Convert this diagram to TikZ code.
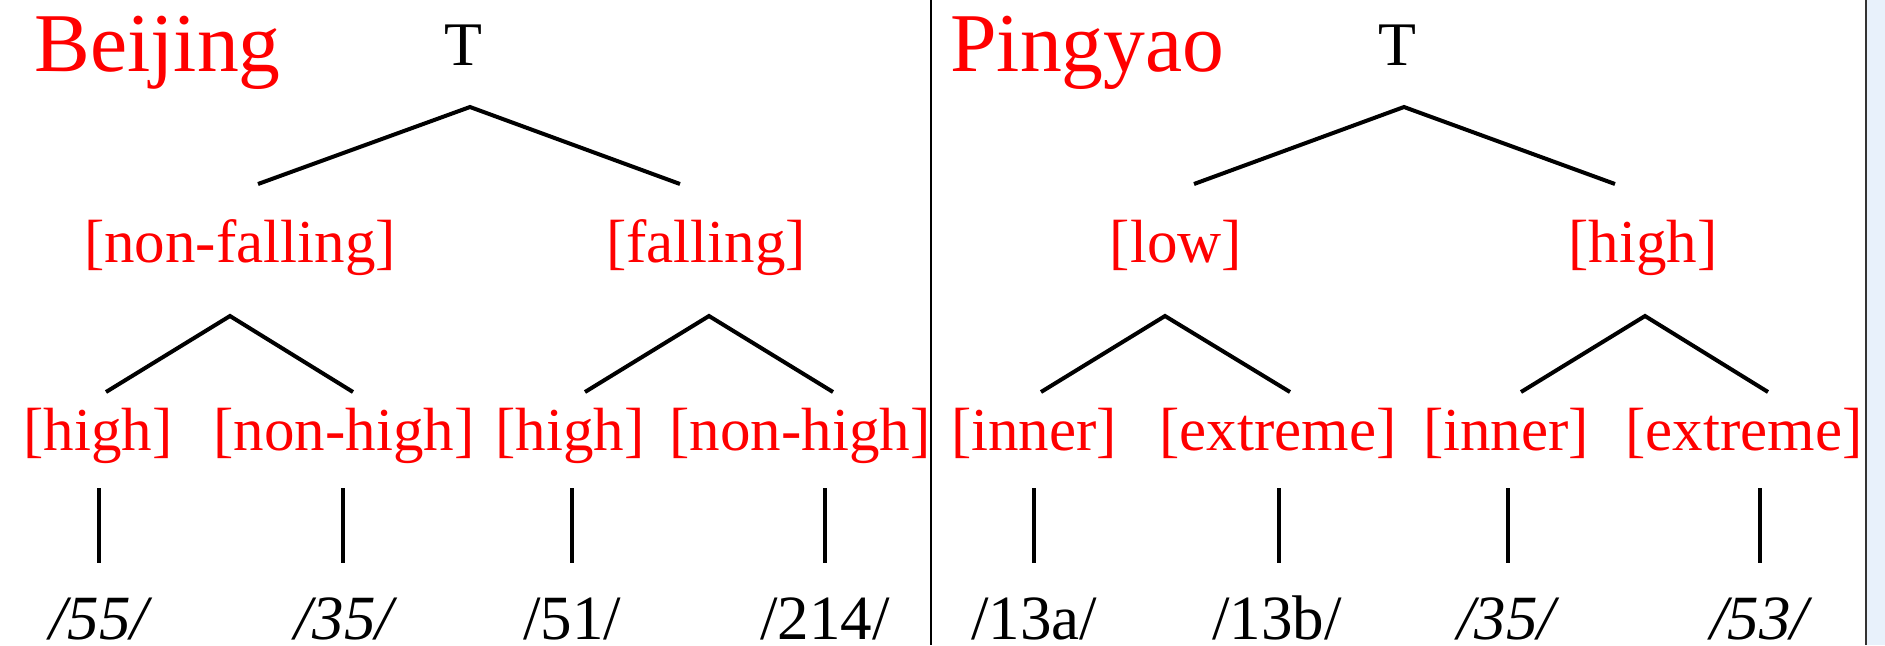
\documentclass[tikz,border=0pt]{standalone}
\usepackage{fontspec}
\setmainfont{Liberation Serif}
\usepackage{xcolor}
\usepackage{tikz}

\definecolor{paneblue}{RGB}{232,241,251}

\tikzset{
  title/.style={red, anchor=base west, inner sep=0pt, font=\fontsize{41.8}{48}\selectfont},
  root/.style={black, anchor=base, inner sep=0pt, font=\fontsize{31}{36}\selectfont},
  feat/.style={red, anchor=base, inner sep=0pt, font=\fontsize{30.5}{36}\selectfont},
  tone/.style={black, anchor=base, inner sep=0pt, font=\fontsize{31.5}{36}\selectfont},
  itone/.style={tone, font=\fontsize{31.5}{36}\selectfont\itshape},
  branch/.style={black, line width=2pt},
}

\begin{document}
\begin{tikzpicture}[x=0.5pt, y=-0.5pt]
    \useasboundingbox (0,0) rectangle (1885,645);

    % Window edge on the right
    \fill[paneblue] (1867,0) rectangle (1885,645);
    \draw[black!80, line width=1pt] (1866,0) -- (1866,645);

    % Divider between the two trees
    \draw[black, line width=1pt] (931,0) -- (931,645);

    % ---------------- Beijing ----------------
    \node[title] (bjName) at (34,71) {Beijing};
    \node[root]  (bjT)    at (463,65) {T};

    \node[feat] (bjNF) at (240,262) {[non-falling]};
    \node[feat] (bjF)  at (706,262) {[falling]};

    \node[feat] (bjNFh)  at (98,450)  {[high]};
    \node[feat] (bjNFnh) at (344,450) {[non-high]};
    \node[feat] (bjFh)   at (570,450) {[high]};
    \node[feat] (bjFnh)  at (800,450) {[non-high]};

    \node[itone] (bj55)  at (99,639)  {/55/};
    \node[itone] (bj35)  at (344,639) {/35/};
    \node[tone]  (bj51)  at (572,639) {/51/};
    \node[tone]  (bj214) at (825,639) {/214/};

    % branch points
    \coordinate (bjTop) at (470,107);
    \coordinate (bjTopL) at (258,184);
    \coordinate (bjTopR) at (680,184);
    \coordinate (bjNFtop) at (230,316);
    \coordinate (bjNFl) at (106,392);
    \coordinate (bjNFr) at (353,392);
    \coordinate (bjFtop) at (709,316);
    \coordinate (bjFl) at (585,392);
    \coordinate (bjFr) at (833,392);

    \draw[branch] (bjTopL) -- (bjTop) -- (bjTopR);
    \draw[branch] (bjNFl) -- (bjNFtop) -- (bjNFr);
    \draw[branch] (bjFl) -- (bjFtop) -- (bjFr);

    % vertical links to the tones
    \foreach \x/\n in {99/a,343/b,572/c,825/d}{
      \coordinate (bjUp\n) at (\x,488);
      \coordinate (bjDn\n) at (\x,563);
      \draw[branch] (bjUp\n) -- (bjDn\n);
    }

    % ---------------- Pingyao ----------------
    \node[title] (pyName) at (950,71) {Pingyao};
    \node[root]  (pyT)    at (1397,65) {T};

    \node[feat] (pyL) at (1176,262) {[low]};
    \node[feat] (pyH) at (1643,262) {[high]};

    \node[feat] (pyLi) at (1034,450) {[inner]};
    \node[feat] (pyLe) at (1278,450) {[extreme]};
    \node[feat] (pyHi) at (1506,450) {[inner]};
    \node[feat] (pyHe) at (1744,450) {[extreme]};

    \node[tone]  (py13a) at (1034,639) {/13a/};
    \node[tone]  (py13b) at (1277,639) {/13b/};
    \node[itone] (py35)  at (1506,639) {/35/};
    \node[itone] (py53)  at (1759,639) {/53/};

    % branch points
    \coordinate (pyTop) at (1404,107);
    \coordinate (pyTopL) at (1194,184);
    \coordinate (pyTopR) at (1615,184);
    \coordinate (pyLtop) at (1165,316);
    \coordinate (pyLl) at (1041,392);
    \coordinate (pyLr) at (1290,392);
    \coordinate (pyHtop) at (1645,316);
    \coordinate (pyHl) at (1521,392);
    \coordinate (pyHr) at (1768,392);

    \draw[branch] (pyTopL) -- (pyTop) -- (pyTopR);
    \draw[branch] (pyLl) -- (pyLtop) -- (pyLr);
    \draw[branch] (pyHl) -- (pyHtop) -- (pyHr);

    % vertical links to the tones
    \foreach \x/\n in {1034/a,1279/b,1508/c,1760/d}{
      \coordinate (pyUp\n) at (\x,488);
      \coordinate (pyDn\n) at (\x,563);
      \draw[branch] (pyUp\n) -- (pyDn\n);
    }
\end{tikzpicture}
\end{document}
